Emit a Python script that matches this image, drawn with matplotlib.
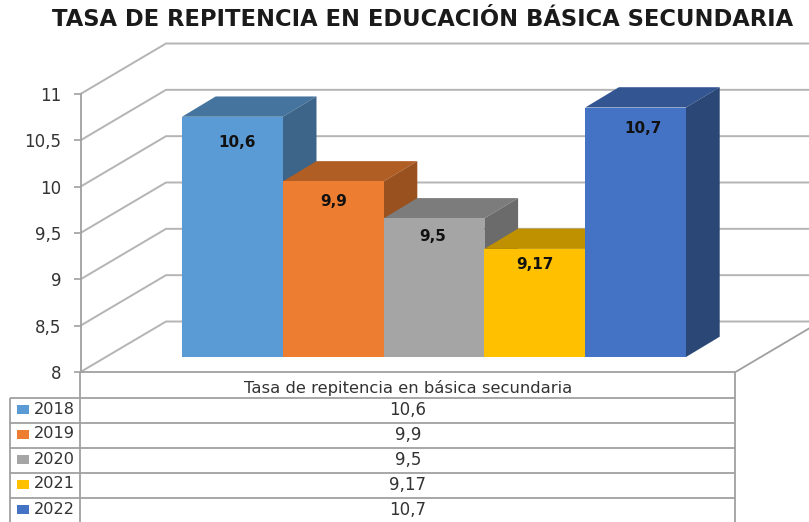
import matplotlib
matplotlib.use("Agg")
import matplotlib.pyplot as plt
from matplotlib.patches import Polygon, Rectangle

years = ["2018", "2019", "2020", "2021", "2022"]
values = [10.6, 9.9, 9.5, 9.17, 10.7]
value_labels = ["10,6", "9,9", "9,5", "9,17", "10,7"]
axis_ticks = [8, 8.5, 9, 9.5, 10, 10.5, 11]
axis_tick_labels = ["8", "8,5", "9", "9,5", "10", "10,5", "11"]
series_name = "Tasa de repitencia en básica secundaria"
title = "TASA DE REPITENCIA EN EDUCACIÓN BÁSICA SECUNDARIA"

front_colors = ["#5B9BD5", "#ED7D31", "#A5A5A5", "#FFC000", "#4472C4"]
top_colors = ["#45749F", "#B15E24", "#7C7C7C", "#BF9000", "#335693"]
side_colors = ["#3C6589", "#99511F", "#6B6B6B", "#A67C00", "#2A4776"]

W, H = 809, 522
GRID = "#B4B4B4"
LINE = "#A0A0A0"
TEXT = "#333333"

plt.rcParams["font.family"] = "DejaVu Sans"
fig = plt.figure(figsize=(W / 100, H / 100), dpi=100, facecolor="white")


def axes_px(left, right, top, bottom, **kw):
    return fig.add_axes([left / W, 1 - bottom / H, (right - left) / W, (bottom - top) / H], **kw)


# Full-figure overlay in pixel coordinates for the data table and the title
ov = axes_px(0, W, 0, H, zorder=3)
ov.set_xlim(0, W)
ov.set_ylim(H, 0)
ov.axis("off")
ov.patch.set_alpha(0)

# Walls and value axis
wall = axes_px(80.5, 735.5, 94, 372, zorder=1)
wall.set_xlim(80.5, 735.5)
wall.set_ylim(8, 11)
wall.set_xticks([])
wall.set_yticks(axis_ticks)
wall.set_yticklabels(axis_tick_labels, fontsize=12, color=TEXT)
wall.tick_params(axis="y", length=5, width=1.2, color=LINE, pad=9)
for s in ["top", "right", "bottom"]:
    wall.spines[s].set_visible(False)
wall.spines["left"].set_color(LINE)
wall.spines["left"].set_linewidth(1.3)
wall.patch.set_alpha(0)
lift = 50.5 / 92.67
for v in axis_ticks:
    wall.plot([80.5, 166, 809], [v, v + lift, v + lift], color=GRID, lw=1.4,
              clip_on=False, solid_joinstyle="miter")
wall.plot([80.5, 735.5, 809], [8, 8, 8 + 43.5 / 92.67], color=LINE, lw=1.3, clip_on=False)

# Bars: the front faces live on a category / value axes, depth is derived from it
ax = axes_px(182, 686, 357 - 3 * 92.4, 357, zorder=2)
ax.set_xlim(0, 5)
ax.set_ylim(8, 11)
ax.axis("off")
ax.patch.set_alpha(0)
depth_x = 33.7 / (504 / 5)
depth_y = 20.3 / 92.4
label_drop = [26, 20, 18, 16, 21]
label_shift = [4.5, 0, -1, 0.5, 7]
for i, v in enumerate(values):
    z = 3 + i * 2
    ax.add_patch(Polygon([(i, v), (i + depth_x, v + depth_y), (i + 1 + depth_x, v + depth_y), (i + 1, v)],
                         closed=True, fc=top_colors[i], ec="none", zorder=z, clip_on=False))
    ax.add_patch(Polygon([(i + 1, v), (i + 1 + depth_x, v + depth_y), (i + 1 + depth_x, 8 + depth_y), (i + 1, 8)],
                         closed=True, fc=side_colors[i], ec="none", zorder=z, clip_on=False))
    ax.bar(i + 0.5, v - 8, width=1, bottom=8, color=front_colors[i], edgecolor="none", zorder=z + 1, clip_on=False)
    ax.text(i + 0.5 + label_shift[i] / 100.8, v - label_drop[i] / 92.4, value_labels[i], ha="center", va="center",
            fontsize=11, fontweight="bold", color="#111111", zorder=30)

# Title
ov.text(422.5, 20, title, ha="center", va="center", fontsize=16.3, fontweight="bold", color="#1A1A1A")

# Data table
row_lines = [397.5, 422.5, 447.5, 472.5, 497.5]
ov.hlines(row_lines, 10, 735.5, color=LINE, lw=1.3)
ov.vlines([10, 80.5], 397.5, H, color=LINE, lw=1.3)
ov.vlines(735.5, 372, H, color=LINE, lw=1.3)
ov.vlines(80.5, 372, 397.5, color=LINE, lw=1.3)
ov.text(408, 387.5, series_name, ha="center", va="center", fontsize=11.8, color=TEXT)
for i, (yr, lab) in enumerate(zip(years, value_labels)):
    y = 409.5 + i * 25
    ov.add_patch(Rectangle((17.5, y - 4.5), 11.5, 9, fc=front_colors[i], ec="none"))
    ov.text(33.5, y - 0.5, yr, ha="left", va="center", fontsize=11.6, color=TEXT)
    ov.text(408, y + 0.5, lab, ha="center", va="center", fontsize=12, color=TEXT)

fig.savefig("out.png", dpi=100, facecolor="white")
